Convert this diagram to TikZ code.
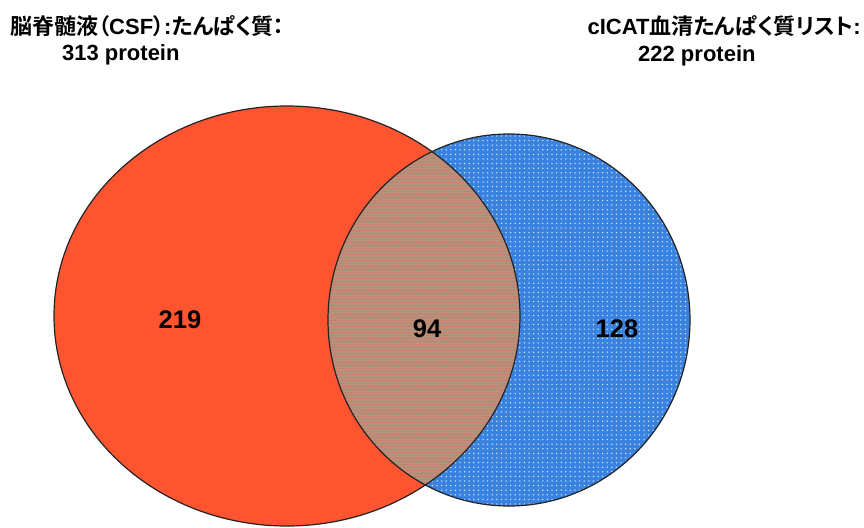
\documentclass[tikz,border=0pt]{standalone}
\usepackage{fontspec}
\setmainfont{Liberation Sans}
\newfontfamily\jp{Noto Sans CJK JP}[BoldFont={Noto Sans CJK JP Bold},RawFeature=+palt]
\usetikzlibrary{patterns.meta}
\definecolor{vred}{RGB}{255,84,48}
\definecolor{vblue}{RGB}{58,130,224}
\definecolor{vmix}{RGB}{180,146,126}
\definecolor{vdot}{RGB}{215,235,255}
\definecolor{vline}{RGB}{35,35,35}
\begin{document}
\begin{tikzpicture}[x=1pt,y=-1pt,
  title/.style={font=\bfseries\fontsize{22}{25}\selectfont, inner sep=0pt, anchor=base west},
  num/.style={font=\bfseries\fontsize{25.5}{28}\selectfont, inner sep=0pt, anchor=base}]
\useasboundingbox (0,0) rectangle (864,527);
\coordinate (cl) at (287,316);
\coordinate (cr) at (509,320);
% left set
\fill[vred] (cl) ellipse [x radius=233, y radius=210];
% right set
\fill[vblue] (cr) ellipse [x radius=181, y radius=186];
\fill[pattern={Dots[distance=4.6pt,radius=0.75pt]}, pattern color=vdot] (cr) ellipse [x radius=181, y radius=186];
% intersection
\begin{scope}
  \clip (cl) ellipse [x radius=233, y radius=210];
  \fill[vmix] (cr) ellipse [x radius=181, y radius=186];
  \fill[pattern={Lines[distance=3pt,angle=0,line width=0.7pt]}, pattern color=vred!55!vmix, opacity=0.5] (cr) ellipse [x radius=181, y radius=186];
\end{scope}
% outlines
\draw[vline, line width=1.2pt] (cl) ellipse [x radius=233, y radius=210];
\draw[vline, line width=1.2pt] (cr) ellipse [x radius=181, y radius=186];
% titles
\node[title] (t1) at (10,35) {{\jp 脳脊髄液（}CSF{\jp ）}:{\jp たんぱく質：}};
\node[title] (t2) at (62,60) {313 protein};
\node[title, anchor=base east] (t3) at (861,35) {cICAT{\jp 血清たんぱく質リスト}:};
\node[title] (t4) at (638,62) {222 protein};
% counts
\node[num] (n1) at (180,328) {219};
\node[num] (n2) at (427,337) {94};
\node[num] (n3) at (617,337) {128};
\end{tikzpicture}
\end{document}
